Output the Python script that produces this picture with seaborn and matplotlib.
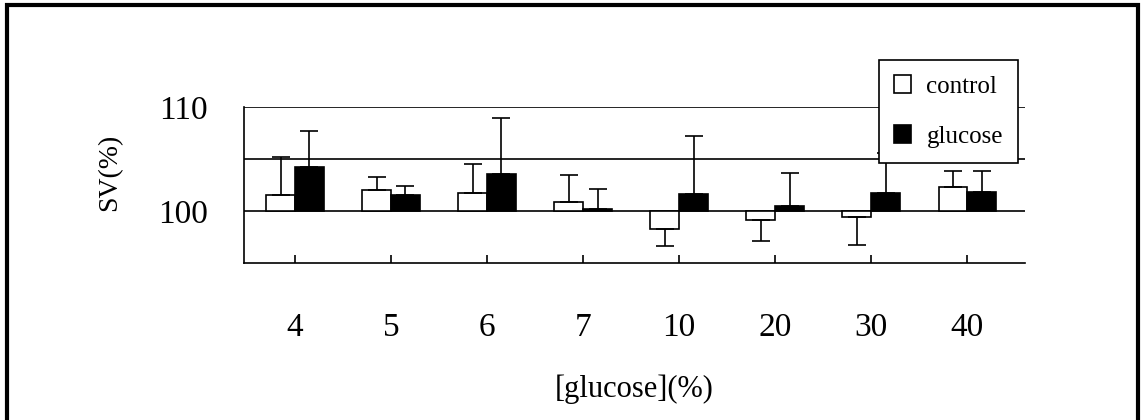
import matplotlib
matplotlib.use("Agg")
import matplotlib.pyplot as plt
from matplotlib.patches import Rectangle
from matplotlib.ticker import FixedLocator, FuncFormatter
import seaborn as sns
import pandas as pd

# ---- data ----
concentrations = ["4", "5", "6", "7", "10", "20", "30", "40"]
control_sv = [101.5, 102.0, 101.7, 100.9, 98.3, 99.15, 99.4, 102.3]
control_err = [3.7, 1.3, 2.8, 2.6, 1.7, 2.05, 2.7, 1.5]
glucose_sv = [104.2, 101.5, 103.6, 100.2, 101.6, 100.45, 101.7, 101.8]
glucose_err = [3.5, 0.9, 5.3, 1.9, 5.6, 3.2, 3.9, 2.0]
groups = ["control", "glucose"]
baseline = 100

sns.set_theme(style="white")
plt.rcParams["font.family"] = ["Liberation Serif", "DejaVu Serif"]
plt.rcParams["text.color"] = "black"

df = pd.DataFrame({
    "conc": concentrations * 2,
    "group": [groups[0]] * len(concentrations) + [groups[1]] * len(concentrations),
    "sv": control_sv + glucose_sv,
})
df["dev"] = df["sv"] - baseline

fig = plt.figure(figsize=(11.45, 4.2), dpi=100)
ax = fig.add_axes([244 / 1145, 1 - 263 / 420, 781 / 1145, 156 / 420])

sns.barplot(data=df, x="conc", y="dev", hue="group", order=concentrations,
            hue_order=groups, palette={"control": "white", "glucose": "black"},
            edgecolor="black", linewidth=1.2, width=0.6, gap=0,
            errorbar=None, ax=ax)

# one-sided error bars
errs = [control_err, glucose_err]
for cont, err in zip(ax.containers, errs):
    for bar, e in zip(cont, err):
        h = bar.get_height()
        xc = bar.get_x() + bar.get_width() / 2
        yerr = [[0], [e]] if h >= 0 else [[e], [0]]
        ax.errorbar([xc], [h], yerr=yerr, fmt="none", ecolor="black",
                    elinewidth=1.2, capsize=6.5, capthick=1.2, zorder=1)

ax.set_xlim(-0.53, 7.6)
ax.set_ylim(95 - baseline, 110 - baseline)

# reference lines
for lvl in [110, 105, 100]:
    ax.axhline(lvl - baseline, color="black", lw=1.2, zorder=0.5)

for s in ["top", "right"]:
    ax.spines[s].set_visible(False)
for s in ["left", "bottom"]:
    ax.spines[s].set_color("black")
    ax.spines[s].set_linewidth(1.2)

ax.yaxis.set_major_locator(FixedLocator([100 - baseline, 110 - baseline]))
ax.yaxis.set_major_formatter(FuncFormatter(lambda v, p: f"{v + baseline:.0f}"))
ax.tick_params(axis="y", length=0, pad=26, labelsize=24, colors="black")
ax.tick_params(axis="x", direction="in", length=6, width=1.2, pad=36,
               labelsize=24, colors="black", bottom=True)

ax.set_xlabel("[glucose](%)", fontsize=22, labelpad=22, color="black")
ax.set_ylabel("SV(%)", fontsize=20, color="black")
ax.yaxis.set_label_coords(-0.156, 0.583)

handles, labels = ax.get_legend_handles_labels()
leg = ax.legend(handles, labels, loc="upper right", bbox_to_anchor=(0.991, 1.30),
                fontsize=18, frameon=True, fancybox=False, framealpha=1,
                edgecolor="black", handlelength=0.7, handleheight=0.7,
                handletextpad=0.6, labelspacing=1.1, borderpad=0.6,
                borderaxespad=0)
leg.get_frame().set_linewidth(1.2)
leg.set_zorder(5)

# outer frame of the figure (pixel coords, origin bottom-left); bottom edge off-canvas
fig.patches.append(Rectangle((7, -20), 1131, 435, transform=None, fill=False,
                             edgecolor="black", linewidth=3, clip_on=False))

fig.savefig("out.png", dpi=100)
